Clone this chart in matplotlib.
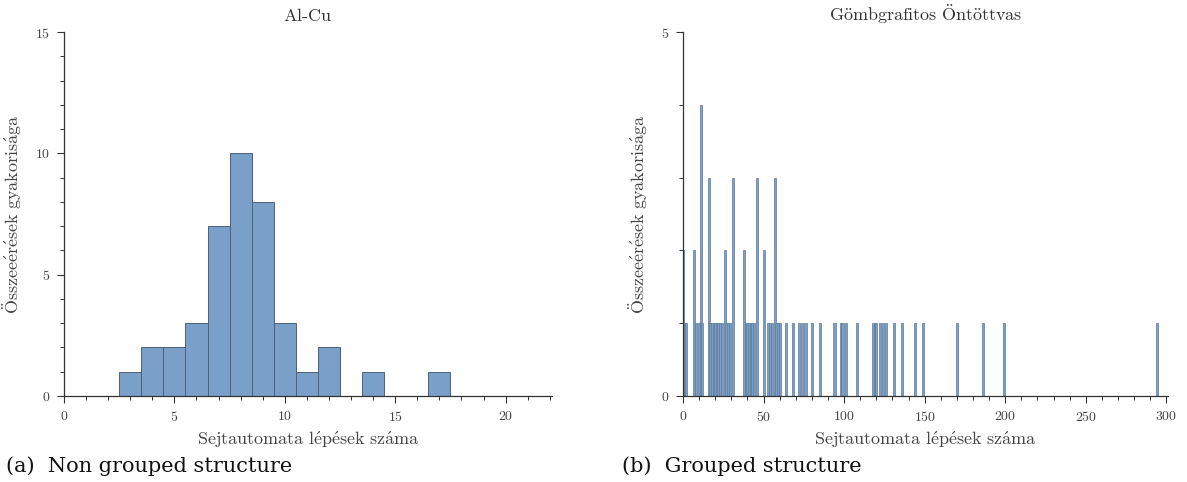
import matplotlib
matplotlib.use("Agg")
import matplotlib.pyplot as plt
from matplotlib.ticker import MultipleLocator, FixedLocator

# ---- data ----
alcu_bins = [3, 4, 5, 6, 7, 8, 9, 10, 11, 12, 14, 17]
alcu_counts = [1, 2, 2, 3, 7, 10, 8, 3, 1, 2, 1, 1]

grp_bins = [0, 1, 2, 7, 8, 10, 11, 12,
            16, 17, 18, 19, 20, 21, 22, 23, 24, 26, 27, 28, 29, 31,
            38, 39, 40, 41, 42, 43, 44, 46, 50,
            53, 54, 55, 57, 58, 59, 60,
            64, 68, 72, 74, 76, 80, 85, 94, 98, 99, 101, 108,
            118, 119, 120, 122, 124, 126, 131, 136, 144, 149,
            170, 186, 199, 294]
grp_counts = [2, 1, 1, 2, 1, 1, 4, 1,
              3, 1, 1, 1, 1, 1, 1, 1, 1, 2, 1, 1, 1, 3,
              2, 1, 1, 1, 1, 1, 1, 3, 2,
              1, 1, 1, 3, 1, 1, 1,
              1, 1, 1, 1, 1, 1, 1, 1, 1, 1, 1, 1,
              1, 1, 1, 1, 1, 1, 1, 1, 1, 1,
              1, 1, 1, 1]

title_a = r'$\mathrm{Al}$-$\mathrm{Cu}$'
title_b = r'$\mathrm{G\"ombgrafitos\ \"Ont\"ottvas}$'
xlab = r'$\mathrm{Sejtautomata\ l\'ep\'esek\ sz\'ama}$'
ylab = r'$\mathrm{\"Osszee\'er\'esek\ gyakoris\'aga}$'
cap_a = '(a)  Non grouped structure'
cap_b = '(b)  Grouped structure'

plt.rcParams['mathtext.fontset'] = 'cm'
plt.rcParams['font.family'] = ['cmr10', 'DejaVu Serif']
plt.rcParams['axes.formatter.use_mathtext'] = True

FACE = '#7aa0c9'
EDGE = '#4c6178'
TXT = '#444444'
AX = '#333333'

fig = plt.figure(figsize=(11.87, 4.82), dpi=100)
W, H = 1187, 482
ax1 = fig.add_axes([64 / W, 86 / H, (552 - 64) / W, 364 / H])
ax2 = fig.add_axes([683 / W, 86 / H, (1168 - 683) / W, 364 / H])

ax1.bar(alcu_bins, alcu_counts, width=1.0, color=FACE, edgecolor=EDGE, linewidth=0.7)
ax2.bar(grp_bins, grp_counts, width=1.3, color=FACE, edgecolor='#5f7a98', linewidth=0.5)

ax1.set_xlim(0, 22.1)
ax1.set_ylim(0, 15)
ax1.xaxis.set_major_locator(MultipleLocator(5))
ax1.xaxis.set_minor_locator(MultipleLocator(1))
ax1.yaxis.set_major_locator(MultipleLocator(5))
ax1.yaxis.set_minor_locator(MultipleLocator(1))

ax2.set_xlim(0, 301)
ax2.set_ylim(0, 5)
ax2.xaxis.set_major_locator(MultipleLocator(50))
ax2.xaxis.set_minor_locator(MultipleLocator(10))
ax2.yaxis.set_major_locator(FixedLocator([0, 5]))
ax2.yaxis.set_minor_locator(FixedLocator([1, 2, 3, 4]))

for ax, t in ((ax1, title_a), (ax2, title_b)):
    for s in ('top', 'right'):
        ax.spines[s].set_visible(False)
    for s in ('left', 'bottom'):
        ax.spines[s].set_color(AX)
        ax.spines[s].set_linewidth(0.9)
    ax.tick_params(which='major', direction='out', length=5, width=0.8,
                   color=AX, labelsize=10, labelcolor=TXT, pad=5)
    ax.tick_params(which='minor', direction='out', length=3, width=0.7, color=AX)
    ax.set_title(t, fontsize=13, color='#333333', pad=8)
    ax.set_xlabel(xlab, fontsize=13, color=TXT, labelpad=4)
    ax.set_ylabel(ylab, fontsize=13, color=TXT, labelpad=8)

fig.text(6 / W, (482 - 466) / H, cap_a, fontsize=15, family='DejaVu Serif',
         color='#111111', va='center', ha='left')
fig.text(622 / W, (482 - 466) / H, cap_b, fontsize=15, family='DejaVu Serif',
         color='#111111', va='center', ha='left')

fig.savefig('out.png', dpi=100)
